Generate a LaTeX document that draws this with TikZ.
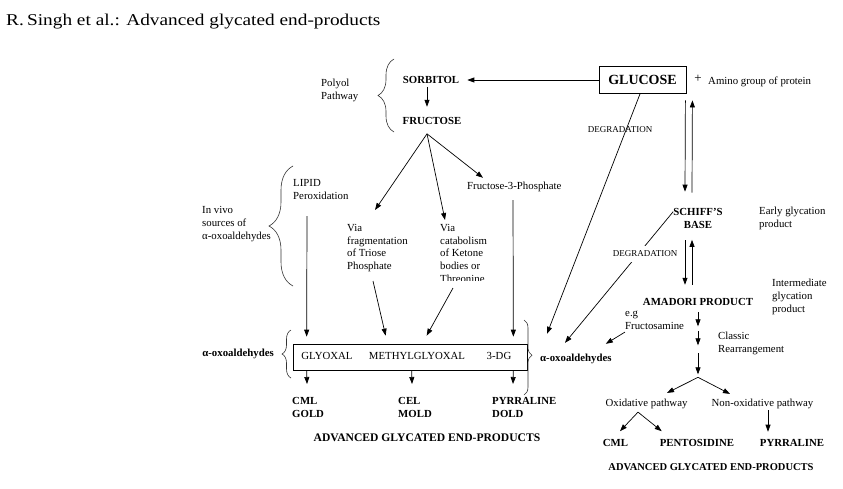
\documentclass[tikz,border=0pt]{standalone}
\usepackage{fontspec}
\setmainfont{Liberation Serif}
\usetikzlibrary{arrows.meta,decorations.pathreplacing}
\begin{document}
\begin{tikzpicture}[x=1pt,y=-1pt,
  txt/.style={inner sep=0pt,font=\fontsize{10.8}{13}\selectfont,align=left},
  btxt/.style={inner sep=0pt,font=\fontsize{10.8}{13}\selectfont\bfseries,align=left},
  via/.style={inner sep=0pt,font=\fontsize{10.8}{12.8}\selectfont,align=left},
  deg/.style={inner sep=0pt,font=\fontsize{9}{10}\selectfont},
  arr/.style={-{Triangle[length=7pt,width=5pt]},line width=0.7pt},
  brc/.style={decorate,decoration={brace,amplitude=#1},line width=0.6pt,draw=black!80},
  brc/.default=8pt]
\path[use as bounding box,fill=white] (0,0) rectangle (843,488);

% title
\node[anchor=base west,inner sep=0pt] (title) at (6,25)
  {\fontsize{16.5}{18}\selectfont\scalebox{1.17}[1]{R.\,Singh et al.: Advanced glycated end-products}};

% ---------- top / left part ----------
\node[draw,line width=0.8pt,minimum width=87,minimum height=27,inner sep=0pt,
      font=\fontsize{14}{16}\selectfont\bfseries] (glucose) at (642.5,80) {GLUCOSE};
\node[inner sep=0pt,font=\fontsize{13}{14}\selectfont] (plus) at (698,79) {+};
\node[txt,anchor=base west] (amino) at (708,84) {Amino group of protein};
\node[btxt] (sorbitol) at (431,80) {SORBITOL};
\node[btxt] (fructose) at (432,121) {FRUCTOSE};
\node[txt,anchor=north west] (polyol) at (321,79) {Polyol\\Pathway};
\node[txt,anchor=base west] (fp) at (467,189) {Fructose-3-Phosphate};
\node[txt,anchor=north west] (lipid) at (293,179) {LIPID\\Peroxidation};
\node[txt,anchor=north west] (invivo) at (202,206) {In vivo\\sources of\\α-oxoaldehydes};
\node[via,anchor=north west] (viafrag) at (347,224) {Via\\fragmentation\\of Triose\\Phosphate};
\begin{scope}
  \clip (430,200) rectangle (520,280.5);
  \node[via,anchor=north west] (viacat) at (440,224) {Via\\catabolism\\of Ketone\\bodies or\\Threonine};
\end{scope}

\node[draw,line width=0.7pt,minimum width=234,minimum height=26,inner sep=0pt] (box) at (410,357) {};
\node[txt] (glyoxal) at (327,356) {GLYOXAL};
\node[txt] (mgo) at (417,356) {METHYLGLYOXAL};
\node[txt] (dg) at (499,356) {3-DG};

\node[btxt,anchor=east] (oxol) at (274,354) {α-oxoaldehydes};
\node[btxt,anchor=base west] (oxor) at (540,361) {α-oxoaldehydes};

\node[btxt,anchor=north west] (cmlgold) at (292,397) {CML\\GOLD};
\node[btxt,anchor=north west] (celmold) at (398,397) {CEL\\MOLD};
\node[btxt,anchor=north west] (pyrdold) at (492,397) {PYRRALINE\\DOLD};
\node[inner sep=0pt,font=\fontsize{11.6}{13}\selectfont\bfseries] (agel) at (427,438) {ADVANCED GLYCATED END-PRODUCTS};

% ---------- right part ----------
\node[deg] (deg1) at (620,130) {DEGRADATION};
\node[btxt,align=center] (schiff) at (698,218) {SCHIFF'S\\BASE};
\node[txt,anchor=north west] (early) at (759,207) {Early glycation\\product};
\node[btxt] (amadori) at (698,302) {AMADORI PRODUCT};
\node[txt,anchor=north west] (inter) at (772,279) {Intermediate\\glycation\\product};
\node[txt,anchor=north west] (eg) at (625,311) {e.g\\Fructosamine};
\node[txt,anchor=north west] (classic) at (718,332) {Classic\\Rearrangement};
\node[txt,anchor=base] (oxid) at (646.5,406.6) {Oxidative pathway};
\node[txt,anchor=base] (nonox) at (762.5,406.6) {Non-oxidative pathway};
\node[btxt] (cml) at (615.5,443) {CML};
\node[btxt] (pent) at (697,443) {PENTOSIDINE};
\node[btxt] (pyr) at (792,443) {PYRRALINE};
\node[inner sep=0pt,font=\fontsize{10.5}{12}\selectfont\bfseries] (ager) at (711,467) {ADVANCED GLYCATED END-PRODUCTS};

% ---------- connectors ----------
\draw[arr] (glucose.west) -- ([xshift=8pt]sorbitol.east);
\draw[arr] ([shift={(-4,3)}]sorbitol.south) -- ([shift={(-5,-10.4)}]fructose.north);
\coordinate (fa) at ([shift={(-5,9)}]fructose.south);
\draw[arr] (fa) -- ([shift={(28,-14)}]viafrag.north west);
\draw[arr] (fa) -- ([shift={(5,-4)}]viacat.north west);
\draw[arr] (fa) -- ([shift={(16,-3.5)}]fp.north west);

\draw[arr] ([shift={(14,37)}]lipid.north west) -- ([shift={(14,-7)}]box.north west);
\draw[arr] ([shift={(46,11)}]fp.base west) -- ([shift={(-14,-7)}]box.north east);
\draw[arr] ([shift={(26,57)}]viafrag.north west) -- ([shift={(93,-8)}]box.north west);
\draw[arr] ([shift={(13,64)}]viacat.north west) -- ([shift={(134,-8)}]box.north west);

\draw[arr] ([xshift=14pt]box.south west) -- ([shift={(15,-13)}]cmlgold.north west);
\draw[arr] ([xshift=119pt]box.south west) -- ([shift={(14,-13)}]celmold.north west);
\draw[arr] ([xshift=-14pt]box.south east) -- ([shift={(21,-13)}]pyrdold.north west);

\draw[arr] ([xshift=-2.5pt]glucose.south) -- ([shift={(7,-19.5)}]oxor.north west);
\draw[arr] ([shift={(-1,6.5)}]glucose.south east) -- ([shift={(-13,-16)}]schiff.north);
\draw[arr] ([shift={(-6,-15)}]schiff.north) -- ([shift={(6,6.5)}]glucose.south east);
\draw[arr] ([shift={(-13,12)}]schiff.south) -- ([shift={(-13,-13.4)}]amadori.north);
\draw[arr] ([shift={(-6,-13.4)}]amadori.north) -- ([shift={(-6,11.5)}]schiff.south);

\draw[arr] ([shift={(0,4)}]schiff.north west) -- ([shift={(25,-10.5)}]oxor.north west);
\node[deg,fill=white,inner xsep=1pt,inner ysep=5pt] (deg2) at (645,254) {DEGRADATION};

\draw[arr] ([shift={(0,2)}]eg.south west) -- ([shift={(-6,-9.5)}]oxor.north east);

\draw[arr] ([yshift=-6.5pt]amadori.south) -- ++(0,14);
\draw[arr] ([yshift=-25.5pt]amadori.south) -- ++(0,14);
\coordinate (sp) at ([yshift=-71.5pt]amadori.south);
\draw[arr] ([yshift=-47.5pt]amadori.south) -- ([yshift=3pt]sp);
\draw[arr] (sp) -- ([shift={(20.5,-6)}]oxid.north);
\draw[arr] (sp) -- ([shift={(-32.5,-5)}]nonox.north);
\draw[arr] ([shift={(-8.5,3)}]oxid.south) -- ([shift={(4.5,-8)}]cml.north);
\draw[arr] ([shift={(-8.5,3)}]oxid.south) -- ([shift={(2,-8)}]pent.north west);
\draw[arr] ([shift={(5.5,1)}]nonox.south) -- ([shift={(-24,-7.5)}]pyr.north);

% braces
\draw[brc=16pt] (394,132) -- (394,59);
\draw[brc=24pt] (293,286) -- (293,166);
\draw[brc=9pt] (291,378) -- (291,330);
\draw[brc=8pt,decoration={aspect=0.47}] (524,320) -- (524,395);
\end{tikzpicture}
\end{document}
